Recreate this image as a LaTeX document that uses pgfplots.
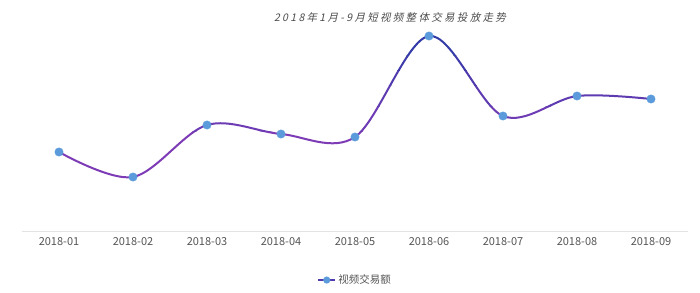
\documentclass[border=0pt]{standalone}
\usepackage{fontspec}
\setmainfont{Noto Sans CJK SC}
\newfontfamily\titlefont[FakeSlant=0.22,LetterSpace=22]{Noto Sans CJK SC}
\usepackage{pgfplots}
\pgfplotsset{compat=1.18}
\definecolor{lblue}{HTML}{2B3AA6}
\definecolor{lpurp}{HTML}{7D3BB6}
\definecolor{mk}{HTML}{5B9BDB}
\definecolor{txt}{HTML}{555555}
\definecolor{axl}{HTML}{E3E3E3}
\pgfplotstableread{
x y
0 79
1 54
2 106
3 97
4 94
5 195
6 115
7 135
8 132
}\datatab
\begin{document}
\begin{tikzpicture}[x=1pt,y=1pt]
\useasboundingbox (0,0) rectangle (700,292);
\node[text=txt!90!black,font=\titlefont\fontsize{10.5}{12}\selectfont] at (390,275) {2018年1月-9月短视频整体交易投放走势};
\begin{axis}[
  at={(22pt,61pt)}, anchor=south west,
  scale only axis, width=666pt, height=201pt,
  xmin=-0.5, xmax=8.5, ymin=0, ymax=201,
  axis y line=none, axis x line*=bottom,
  x axis line style={draw=axl, line width=1pt, -},
  xtick={0,...,8}, xtick style={draw=none},
  xticklabels={2018-01,2018-02,2018-03,2018-04,2018-05,2018-06,2018-07,2018-08,2018-09},
  xticklabel style={text=txt, font=\fontsize{11}{12}\selectfont, yshift=-3pt},
  /pgf/number format/assume math mode=true,
  clip=false,
  legend style={at={(0.5,-0.244)}, anchor=center, draw=none, fill=none,
    font=\fontsize{10.5}{12}\selectfont, text=txt, inner sep=0pt,
    legend cell align=left, /tikz/every even column/.append style={column sep=2pt}},
]
\addlegendimage{color=lblue!55!lpurp, line width=2pt, mark=*, mark size=2.5pt, mark options={fill=mk, draw=mk}}
\addlegendentry{视频交易额}
\begin{scope}
\clip (axis cs:-1,0) rectangle (axis cs:9,100);
\addplot[color=lpurp, line width=2pt, smooth, tension=0.55, forget plot] table {\datatab};
\end{scope}
\begin{scope}
\clip (axis cs:-1,100) rectangle (axis cs:9,125);
\addplot[color=lblue!20!lpurp, line width=2pt, smooth, tension=0.55, forget plot] table {\datatab};
\end{scope}
\begin{scope}
\clip (axis cs:-1,125) rectangle (axis cs:9,145);
\addplot[color=lblue!38!lpurp, line width=2pt, smooth, tension=0.55, forget plot] table {\datatab};
\end{scope}
\begin{scope}
\clip (axis cs:-1,145) rectangle (axis cs:9,160);
\addplot[color=lblue!55!lpurp, line width=2pt, smooth, tension=0.55, forget plot] table {\datatab};
\end{scope}
\begin{scope}
\clip (axis cs:-1,160) rectangle (axis cs:9,175);
\addplot[color=lblue!75!lpurp, line width=2pt, smooth, tension=0.55, forget plot] table {\datatab};
\end{scope}
\begin{scope}
\clip (axis cs:-1,175) rectangle (axis cs:9,220);
\addplot[color=lblue!92!lpurp, line width=2pt, smooth, tension=0.55, forget plot] table {\datatab};
\end{scope}
\addplot[only marks, mark=*, mark size=4.2pt, mark options={fill=mk, draw=mk}, forget plot] table {\datatab};
\end{axis}
\end{tikzpicture}
\end{document}
